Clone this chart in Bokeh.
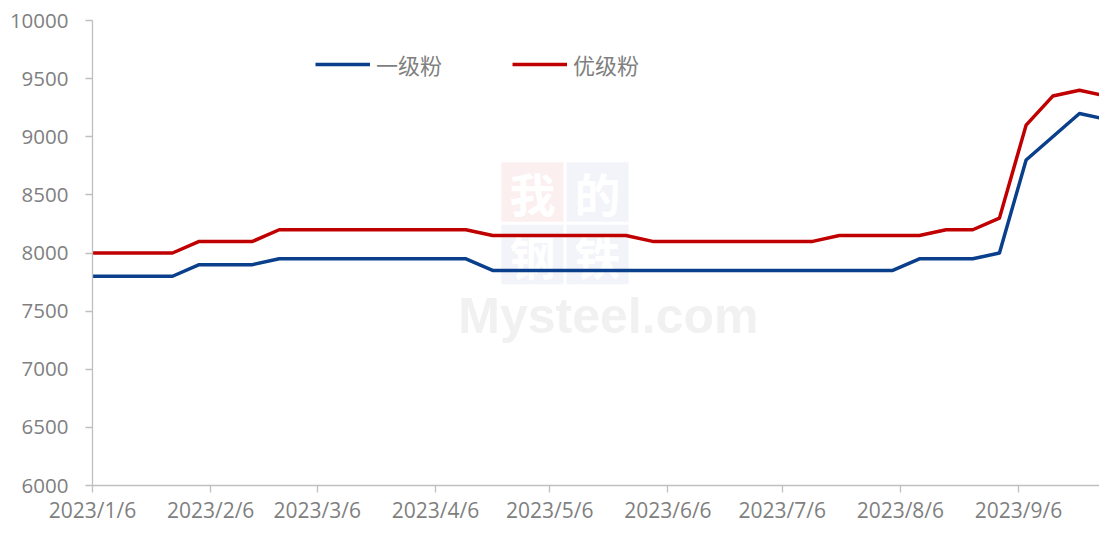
from datetime import datetime, timedelta
from bokeh.plotting import figure
from bokeh.models import (Range1d, FixedTicker, Legend, LegendItem, Label,
                          BoxAnnotation, ColumnDataSource)
from bokeh.embed import file_html
from bokeh.resources import INLINE

# ---------------- data ----------------
dates = ["2023-01-06", "2023-01-13", "2023-01-20", "2023-01-27",
         "2023-02-03", "2023-02-10", "2023-02-17", "2023-02-24",
         "2023-03-03", "2023-03-10", "2023-03-17", "2023-03-24", "2023-03-31",
         "2023-04-07", "2023-04-14", "2023-04-21", "2023-04-28",
         "2023-05-05", "2023-05-12", "2023-05-19", "2023-05-26",
         "2023-06-02", "2023-06-09", "2023-06-16", "2023-06-23", "2023-06-30",
         "2023-07-07", "2023-07-14", "2023-07-21", "2023-07-28",
         "2023-08-04", "2023-08-11", "2023-08-18", "2023-08-25",
         "2023-09-01", "2023-09-08", "2023-09-15", "2023-09-22", "2023-09-29"]

grade1 = [7800, 7800, 7800, 7800,
          7900, 7900, 7900, 7950,
          7950, 7950, 7950, 7950, 7950,
          7950, 7950, 7850, 7850,
          7850, 7850, 7850, 7850,
          7850, 7850, 7850, 7850, 7850,
          7850, 7850, 7850, 7850,
          7850, 7950, 7950, 7950,
          8000, 8800, 9000, 9200, 9150]

premium = [8000, 8000, 8000, 8000,
           8100, 8100, 8100, 8200,
           8200, 8200, 8200, 8200, 8200,
           8200, 8200, 8150, 8150,
           8150, 8150, 8150, 8150,
           8100, 8100, 8100, 8100, 8100,
           8100, 8100, 8150, 8150,
           8150, 8150, 8200, 8200,
           8300, 9100, 9350, 9400, 9350]

series_names = ["一级粉", "优级粉"]
tick_dates = ["2023-01-06", "2023-02-06", "2023-03-06", "2023-04-06", "2023-05-06",
              "2023-06-06", "2023-07-06", "2023-08-06", "2023-09-06"]
tick_labels = ["2023/1/6", "2023/2/6", "2023/3/6", "2023/4/6", "2023/5/6",
               "2023/6/6", "2023/7/6", "2023/8/6", "2023/9/6"]
y_ticks = [6000, 6500, 7000, 7500, 8000, 8500, 9000, 9500, 10000]

# ---------------- build ----------------
def ms(dt):
    return (dt - datetime(1970, 1, 1)).total_seconds() * 1000.0

def day(d):
    return ms(datetime(2023, 1, 6) + timedelta(days=d))

x = [datetime.strptime(d, "%Y-%m-%d") for d in dates]
src = ColumnDataSource(dict(x=x, g1=grade1, pr=premium))

start = datetime(2023, 1, 6)
end = start + timedelta(days=264.26)

p = figure(width=1099, height=526, output_backend="svg", toolbar_location=None,
           x_axis_type="datetime",
           x_range=Range1d(ms(start), ms(end)), y_range=Range1d(6000, 10000),
           min_border_left=92, min_border_right=0, min_border_top=20,
           min_border_bottom=37)
p.outline_line_color = None
p.xgrid.visible = False
p.ygrid.visible = False
p.background_fill_color = "white"
p.border_fill_color = "white"

BLUE = "#0a3f8c"
RED = "#c00000"
GREY_AX = "#bfbfbf"
GREY_TXT = "#7f7f7f"

# ---- faint watermark (below the lines) ----
wm_boxes = [((107.3, 123.6), (8269, 8780), "#fcefef", "我"),
            ((124.4, 140.7), (8269, 8780), "#f2f4f9", "的"),
            ((107.3, 123.6), (7731, 8243), "#f2f4f9", "钢"),
            ((124.4, 140.7), (7731, 8243), "#f2f4f9", "铁")]
for (d0, d1), (v0, v1), col, ch in wm_boxes:
    p.add_layout(BoxAnnotation(left=day(d0), right=day(d1), bottom=v0, top=v1,
                               fill_color=col, fill_alpha=1, line_color=None,
                               level="underlay"))
    p.add_layout(Label(x=(day(d0) + day(d1)) / 2, y=(v0 + v1) / 2, text=ch,
                       text_align="center", text_baseline="middle",
                       text_font="Noto Sans CJK SC", text_font_size="46px",
                       text_font_style="bold", text_color="white",
                       level="underlay"))
p.add_layout(Label(x=day(96.0), y=7458, text="Mysteel.com",
                   text_align="left", text_baseline="alphabetic",
                   text_font="Liberation Sans", text_font_size="50px",
                   text_font_style="bold", text_color="#f1f1f1",
                   level="underlay"))

r1 = p.line("x", "g1", source=src, line_color=BLUE, line_width=3.5, line_join="round")
r2 = p.line("x", "pr", source=src, line_color=RED, line_width=3.5, line_join="round")

# axes
p.xaxis.ticker = FixedTicker(ticks=[ms(datetime.strptime(d, "%Y-%m-%d")) for d in tick_dates])
p.xaxis.major_label_overrides = {ms(datetime.strptime(d, "%Y-%m-%d")): l
                                 for d, l in zip(tick_dates, tick_labels)}
p.yaxis.ticker = FixedTicker(ticks=y_ticks)
for ax in (p.xaxis, p.yaxis):
    ax.axis_line_color = GREY_AX
    ax.axis_line_width = 1.3
    ax.major_tick_line_color = GREY_AX
    ax.major_tick_line_width = 1.3
    ax.major_tick_in = 0
    ax.major_tick_out = 7
    ax.minor_tick_line_color = None
    ax.major_label_text_color = GREY_TXT
    ax.major_label_text_font = "Open Sans"
p.yaxis.major_label_text_font_size = "20.5px"
p.xaxis.major_label_text_font_size = "21px"
p.yaxis.major_label_standoff = 17
p.xaxis.major_label_standoff = 3

legend = Legend(items=[LegendItem(label=series_names[0], renderers=[r1]),
                       LegendItem(label=series_names[1], renderers=[r2])],
                orientation="horizontal", location=(223, 405),
                glyph_width=55, glyph_height=20, label_standoff=6, spacing=70,
                padding=0, margin=0, border_line_color=None,
                background_fill_alpha=0,
                label_text_font="Noto Sans CJK SC", label_text_font_size="22px",
                label_text_color=GREY_TXT)
p.add_layout(legend)

open("out.html", "w").write(file_html(p, INLINE))
